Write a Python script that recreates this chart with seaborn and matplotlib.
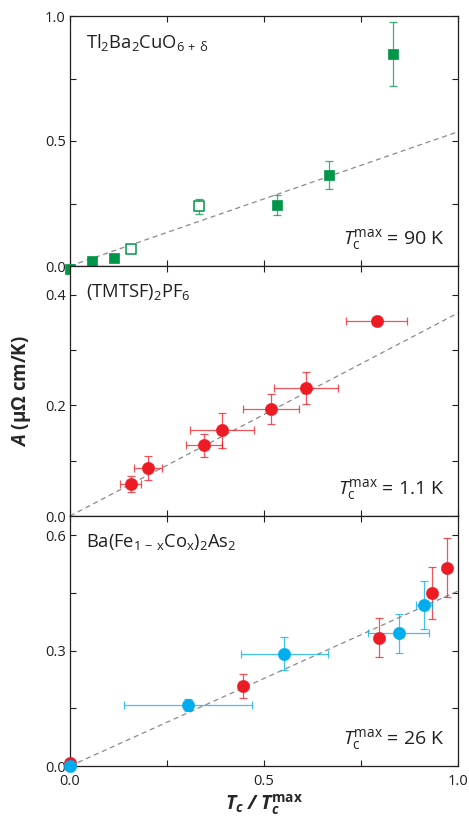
import numpy as np
import pandas as pd
import matplotlib
matplotlib.use("Agg")
import matplotlib.pyplot as plt
from matplotlib.ticker import MultipleLocator, FormatStrFormatter
import seaborn as sns

# ---- Tl2Ba2CuO6+d (Tc max = 90 K) ----
tl_x_filled = [0.0, 0.057, 0.113, 0.533, 0.667, 0.833]
tl_y_filled = [-0.01, 0.02, 0.033, 0.243, 0.365, 0.848]
tl_yerr_filled = [0.0, 0.0, 0.0, 0.04, 0.055, 0.127]
tl_x_open = [0.157, 0.333]
tl_y_open = [0.069, 0.240]
tl_yerr_open = [0.0, 0.03]
tl_slope = 0.537

# ---- (TMTSF)2PF6 (Tc max = 1.1 K) ----
tm_x = [0.156, 0.201, 0.346, 0.391, 0.519, 0.608, 0.790]
tm_y = [0.058, 0.087, 0.128, 0.155, 0.193, 0.231, 0.353]
tm_xerr = [0.027, 0.036, 0.046, 0.082, 0.072, 0.083, 0.078]
tm_yerr = [0.014, 0.022, 0.021, 0.032, 0.027, 0.029, 0.0]
tm_slope = 0.367

# ---- Ba(Fe1-xCox)2As2 (Tc max = 26 K) ----
ba_red_x = [0.0, 0.446, 0.796, 0.932, 0.971]
ba_red_y = [0.007, 0.2075, 0.334, 0.4505, 0.516]
ba_red_yerr = [0.0, 0.031, 0.05, 0.067, 0.077]
ba_blue_x = [0.0, 0.305, 0.552, 0.847, 0.912]
ba_blue_y = [0.0, 0.159, 0.2925, 0.345, 0.419]
ba_blue_xerr = [0.0, 0.165, 0.112, 0.079, 0.021]
ba_blue_yerr = [0.0, 0.015, 0.044, 0.051, 0.063]
ba_slope = 0.455

GREEN = "#00964a"
RED = "#ed1c24"
BLUE = "#00aeef"
DARK = "#231f20"

sns.set_theme(style="ticks")
plt.rcParams["font.family"] = ["Open Sans", "DejaVu Sans"]
plt.rcParams.update({
    "mathtext.fontset": "custom",
    "mathtext.rm": "Open Sans",
    "mathtext.it": "Open Sans:italic",
    "mathtext.bf": "Open Sans:bold",
    "mathtext.bfit": "Open Sans:bold:italic",
    "axes.edgecolor": DARK,
    "axes.linewidth": 0.9,
    "xtick.color": DARK,
    "ytick.color": DARK,
    "text.color": DARK,
})

fig = plt.figure(figsize=(4.69, 8.17), dpi=100)
left, width = 70 / 469, 388 / 469
h = 250 / 817
bottoms = [1 - 266 / 817, 1 - 516 / 817, 1 - 766 / 817]
axes = [fig.add_axes([left, b, width, h]) for b in bottoms]
ax1, ax2, ax3 = axes

sq_size = 54
ci_size = 80


def errbars(ax, x, y, color, xerr=None, yerr=None):
    ax.errorbar(x, y, xerr=xerr, yerr=yerr, fmt="none", ecolor=color,
                elinewidth=0.9, capsize=2.8, capthick=0.9, alpha=0.75,
                zorder=2, clip_on=False)


def fitline(ax, slope):
    ax.axline((0, 0), slope=slope, color="#8a8a8a", lw=0.9,
              dashes=(4, 3), zorder=1)


# Top panel
fitline(ax1, tl_slope)
errbars(ax1, tl_x_filled, tl_y_filled, GREEN, yerr=tl_yerr_filled)
errbars(ax1, tl_x_open, tl_y_open, GREEN, yerr=tl_yerr_open)
sns.scatterplot(x=tl_x_filled, y=tl_y_filled, ax=ax1, marker="s", s=sq_size,
                color=GREEN, edgecolor=GREEN, linewidth=0.5, zorder=3,
                clip_on=False)
sns.scatterplot(x=tl_x_open, y=tl_y_open, ax=ax1, marker="s", s=sq_size * 0.85,
                facecolor="white", edgecolor=GREEN, linewidth=1.1, zorder=3,
                clip_on=False)
ax1.set_ylim(0, 1.0)
ax1.yaxis.set_major_locator(MultipleLocator(0.5))
ax1.yaxis.set_minor_locator(MultipleLocator(0.25))

# Middle panel
fitline(ax2, tm_slope)
errbars(ax2, tm_x, tm_y, RED, xerr=tm_xerr, yerr=tm_yerr)
sns.scatterplot(x=tm_x, y=tm_y, ax=ax2, marker="o", s=ci_size, color=RED,
                edgecolor=RED, linewidth=0.3, zorder=3, clip_on=False)
ax2.set_ylim(0, 0.452)
ax2.yaxis.set_major_locator(MultipleLocator(0.2))
ax2.yaxis.set_minor_locator(MultipleLocator(0.1))

# Bottom panel
fitline(ax3, ba_slope)
errbars(ax3, ba_red_x, ba_red_y, RED, yerr=ba_red_yerr)
errbars(ax3, ba_blue_x, ba_blue_y, BLUE, xerr=ba_blue_xerr, yerr=ba_blue_yerr)
sns.scatterplot(x=ba_red_x, y=ba_red_y, ax=ax3, marker="o", s=ci_size,
                color=RED, edgecolor=RED, linewidth=0.3, zorder=3, clip_on=False)
sns.scatterplot(x=ba_blue_x, y=ba_blue_y, ax=ax3, marker="o", s=ci_size,
                color=BLUE, edgecolor=BLUE, linewidth=0.3, zorder=4, clip_on=False)
ax3.set_ylim(0, 0.65)
ax3.yaxis.set_major_locator(MultipleLocator(0.3))
ax3.yaxis.set_minor_locator(MultipleLocator(0.15))

for ax in axes:
    ax.set_xlim(0, 1.0)
    ax.xaxis.set_major_locator(MultipleLocator(0.5))
    ax.xaxis.set_minor_locator(MultipleLocator(0.25))
    ax.tick_params(which="both", direction="in", top=True, right=True,
                   length=4, width=0.8, labelsize=10.5)
    ax.tick_params(axis="y", pad=3)
    ax.tick_params(axis="x", pad=6)
    ax.yaxis.set_major_formatter(FormatStrFormatter("%.1f"))
    ax.xaxis.set_major_formatter(FormatStrFormatter("%.1f"))
    ax.set_xlabel("")
    ax.set_ylabel("")
for ax in (ax1, ax2):
    ax.tick_params(labelbottom=False)

# Compound names and Tc max annotations
name_size = 13.2
ax1.text(0.04, 0.935, r"Tl$_2$Ba$_2$CuO$_{6\,+\,\mathrm{δ}}$", transform=ax1.transAxes,
         fontsize=name_size, va="top", ha="left")
ax2.text(0.04, 0.935, r"(TMTSF)$_2$PF$_6$", transform=ax2.transAxes,
         fontsize=name_size, va="top", ha="left")
ax3.text(0.04, 0.935, r"Ba(Fe$_{1\,-\,\mathrm{x}}$Co$_\mathrm{x}$)$_2$As$_2$",
         transform=ax3.transAxes, fontsize=name_size, va="top", ha="left")
for ax, label in ((ax1, "90 K"), (ax2, "1.1 K"), (ax3, "26 K")):
    ax.text(0.965, 0.088, r"$T_\mathrm{c}^\mathrm{max}$ = " + label,
            transform=ax.transAxes, fontsize=14, ha="right", va="baseline")

ax2.set_ylabel(r"$\mathbfit{A}$ (μΩ cm/K)", fontsize=13.5, fontweight="bold",
               labelpad=9)
ax3.set_xlabel(r"$\mathbfit{T}_\mathbfit{c}$ $\mathbfit{/}$ $\mathbfit{T}_\mathbfit{c}^\mathbf{max}$",
               fontsize=14, labelpad=2.5)

fig.savefig("out.png", dpi=100)
